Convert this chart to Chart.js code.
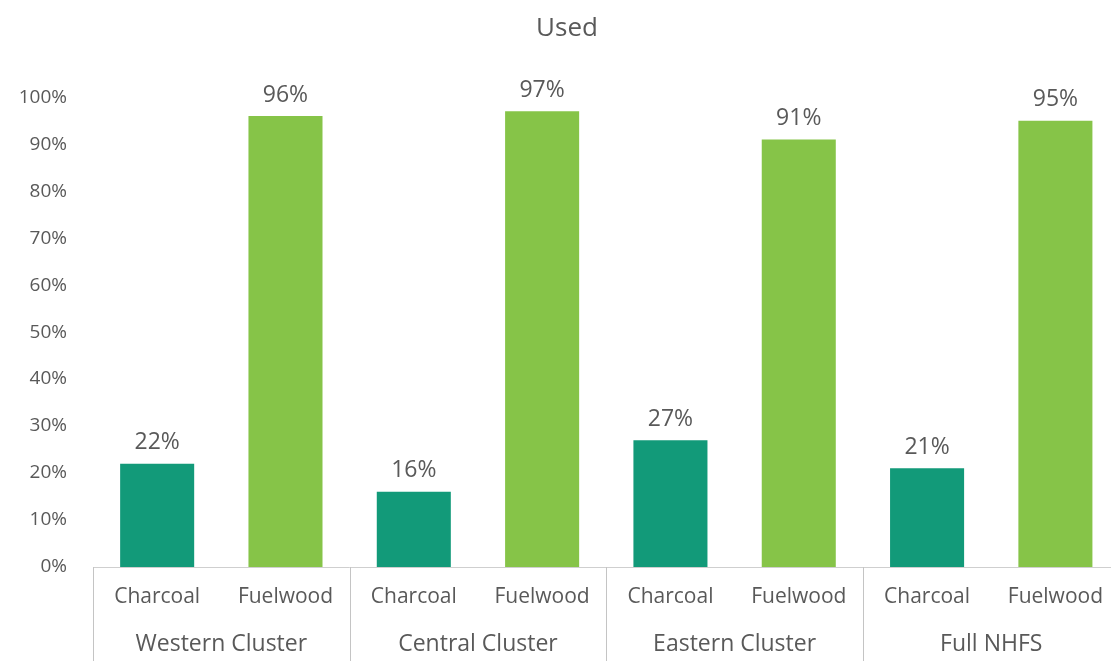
<!DOCTYPE html>
<html>
<head>
<meta charset="utf-8">
<script src="https://cdn.jsdelivr.net/npm/chart.js@4/dist/chart.umd.min.js"></script>
<style>
  html, body { margin: 0; padding: 0; background: #fff; overflow: hidden; }
  #wrap { width: 1120px; height: 661px; }
</style>
</head>
<body>
<div id="wrap"><canvas id="chart"></canvas></div>
<script>
const groups = ["Western Cluster", "Central Cluster", "Eastern Cluster", "Full NHFS"];
const fuelTypes = ["Charcoal", "Fuelwood"];
const charcoal = [22, 16, 27, 21];
const fuelwood = [96, 97, 91, 95];
const yTicks = [0, 10, 20, 30, 40, 50, 60, 70, 80, 90, 100];

const textColor = "#595959";
const colors = ["#129a79", "#86c448"];

// one bar per fuel type inside each cluster
const barLabels = [];
const barValues = [];
const barColors = [];
groups.forEach((g, i) => {
  barLabels.push(fuelTypes[0], fuelTypes[1]);
  barValues.push(charcoal[i], fuelwood[i]);
  barColors.push(colors[0], colors[1]);
});

Chart.defaults.font.family = "'Open Sans', sans-serif";
Chart.defaults.color = textColor;

/* value labels above bars */
const valueLabels = {
  id: "valueLabels",
  afterDatasetsDraw(chart) {
    const { ctx } = chart;
    const meta = chart.getDatasetMeta(0);
    ctx.save();
    ctx.font = "23px 'Open Sans', sans-serif";
    ctx.fillStyle = textColor;
    ctx.textAlign = "center";
    ctx.textBaseline = "middle";
    meta.data.forEach((bar, i) => {
      ctx.fillText(barValues[i] + "%", bar.x, bar.y - 21);
    });
    ctx.restore();
  }
};

/* cluster separators under the axis */
const groupLines = {
  id: "groupLines",
  afterDraw(chart) {
    const { ctx } = chart;
    const x = chart.scales.x;
    const half = (x.getPixelForValue(1) - x.getPixelForValue(0)) / 2;
    ctx.save();
    ctx.strokeStyle = "#c4c4c4";
    ctx.lineWidth = 1;
    for (let i = 0; i <= groups.length; i++) {
      const px = Math.round(x.getPixelForValue(i * 2) - half) + 0.5;
      ctx.beginPath();
      ctx.moveTo(px, x.top);
      ctx.lineTo(px, chart.height);
      ctx.stroke();
    }
    ctx.restore();
  }
};

new Chart(document.getElementById("chart"), {
  type: "bar",
  data: {
    labels: barLabels,
    datasets: [{
      data: barValues,
      backgroundColor: barColors,
      borderWidth: 0,
      barPercentage: 0.577,
      categoryPercentage: 1,
      xAxisID: "x"
    }]
  },
  options: {
    responsive: true,
    maintainAspectRatio: false,
    animation: false,
    layout: { padding: { left: 14, right: 0, top: 0, bottom: 0 } },
    plugins: {
      legend: { display: false },
      tooltip: { enabled: false },
      title: {
        display: true,
        text: "Used",
        color: textColor,
        font: { size: 26, weight: "normal" },
        padding: { top: 13, bottom: 53 }
      }
    },
    scales: {
      y: {
        min: 0,
        max: 100,
        afterBuildTicks(scale) {
          scale.ticks = yTicks.map(v => ({ value: v }));
        },
        afterFit(scale) { scale.width = 79; },
        grid: { display: false, drawTicks: false },
        border: { display: false },
        ticks: {
          padding: 26,
          color: textColor,
          font: { size: 19 },
          callback: v => v + "%"
        }
      },
      x: {
        position: "bottom",
        weight: 0,
        offset: true,
        afterFit(scale) { scale.height = 42; },
        grid: { display: false, drawTicks: false },
        border: { display: true, color: "#cfcfcf", width: 1 },
        ticks: {
          padding: 17,
          color: textColor,
          font: { size: 21 },
          maxRotation: 0,
          autoSkip: false
        }
      },
      x2: {
        type: "category",
        position: "bottom",
        weight: 1,
        labels: groups,
        offset: true,
        afterFit(scale) { scale.height = 52; },
        grid: { display: false, drawTicks: false },
        border: { display: false },
        ticks: {
          padding: 22,
          color: textColor,
          font: { size: 23 },
          maxRotation: 0,
          autoSkip: false
        }
      }
    }
  },
  plugins: [valueLabels, groupLines]
});
</script>
</body>
</html>
